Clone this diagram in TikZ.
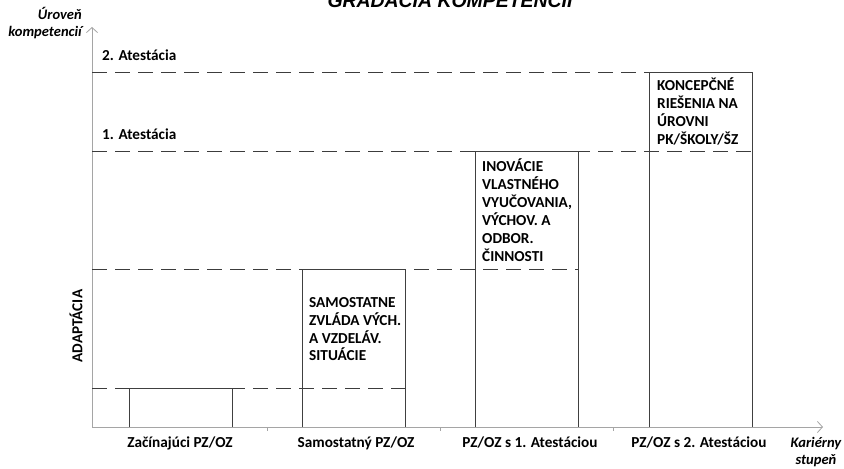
\documentclass[tikz,border=0pt]{standalone}
\usepackage{fontspec}
\setmainfont{Carlito}
\newfontfamily\titlefont{Liberation Sans}
\usetikzlibrary{arrows.meta, positioning}
\definecolor{axisGray}{RGB}{165,165,165}
\definecolor{lineGray}{RGB}{60,60,60}

\begin{document}
\begin{tikzpicture}[
    x=1bp, y=-1bp,
    axis/.style={draw=axisGray, line width=0.8bp, -{Straight Barb[length=5bp,width=11bp]}},
    tick/.style={draw=axisGray, line width=0.8bp},
    level/.style={draw=lineGray, line width=0.9bp, dash pattern=on 15bp off 8bp},
    bar/.style={draw=black!75, line width=0.9bp},
    lbl/.style={font=\fontsize{15.3}{18}\selectfont\bfseries, inner sep=0pt},
    bartext/.style={lbl, align=left, anchor=north west},
    axtitle/.style={font=\fontsize{14.6}{17}\selectfont\bfseries\itshape, inner sep=0pt}
  ]
  \useasboundingbox (0,0) rectangle (844,469);

  % title, cut by the top edge
  \node[font=\titlefont\fontsize{19.5}{22}\selectfont\bfseries\itshape, anchor=base] (title) at (450,8) {GRADÁCIA KOMPETENCIÍ};

  % axes
  \coordinate (O) at (92,427);
  \coordinate (ytop) at (92,27);
  \coordinate (xend) at (823,427);
  \draw[axis] (O) -- (ytop);
  \draw[axis] (O) -- (xend);
  \foreach \tx in {267,440,613}
    \draw[tick] (\tx,427) -- ++(0,4);
  \node[axtitle, align=right, anchor=north east] (yname) at (82,7) {Úroveň\\kompetencií};
  \node[axtitle, align=center, anchor=north] (xname) at (816,437) {Kariérny\\stupeň};

  % levels
  \draw[level] (92,72) -- (752,72);
  \draw[level] (92,151) -- (752,151);
  \draw[level] (92,269) -- (578,269);
  \draw[level] (92,388) -- (405,388);
  \node[lbl, anchor=base west] (att2) at (102,61) {2. Atestácia};
  \node[lbl, anchor=base west] (att1) at (102,140) {1. Atestácia};
  \node[lbl, rotate=90] (adapt) at (76,326) {ADAPTÁCIA};

  % bars
  \draw[bar] (129,427) |- (232,388) -- (232,427);
  \draw[bar] (302,427) |- (405,269) -- (405,427);
  \draw[bar] (475,427) |- (578,151) -- (578,427);
  \draw[bar] (649,427) |- (752,72) -- (752,427);

  \node[bartext] (t2) at (309,297) {SAMOSTATNE\\ZVLÁDA VÝCH.\\A VZDELÁV.\\SITUÁCIE};
  \node[bartext] (t3) at (482,159) {INOVÁCIE\\VLASTNÉHO\\VYUČOVANIA,\\VÝCHOV. A\\ODBOR.\\ČINNOSTI};
  \node[bartext] (t4) at (657,78) {KONCEPČNÉ\\RIEŠENIA NA\\ÚROVNI\\PK/ŠKOLY/ŠZ};

  % career steps
  \node[lbl, anchor=base] (s1) at (180,447) {Začínajúci PZ/OZ};
  \node[lbl, anchor=base] (s2) at (356,447) {Samostatný PZ/OZ};
  \node[lbl, anchor=base] (s3) at (530,447) {PZ/OZ s 1. Atestáciou};
  \node[lbl, anchor=base] (s4) at (699,447) {PZ/OZ s 2. Atestáciou};
\end{tikzpicture}
\end{document}
